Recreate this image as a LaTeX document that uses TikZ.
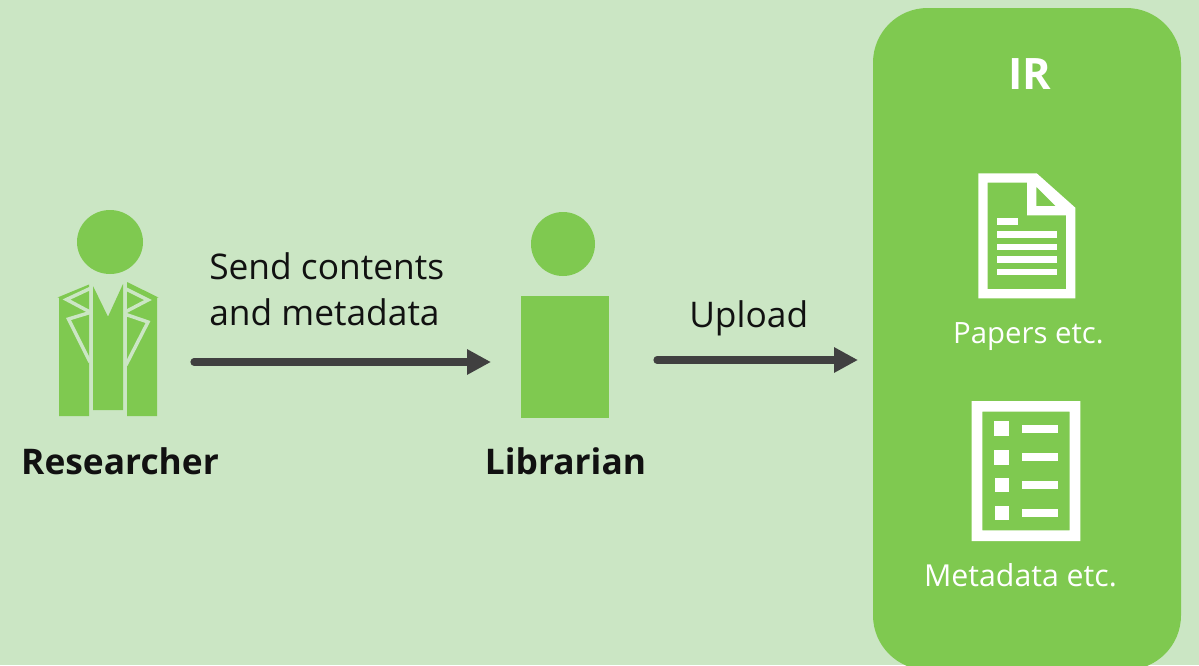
\documentclass[tikz,border=0pt]{standalone}
\usepackage{fontspec}
\setmainfont{Open Sans}
\usetikzlibrary{arrows.meta,calc}
\definecolor{bgc}{HTML}{CBE6C4}
\definecolor{grn}{HTML}{7FC950}
\definecolor{arrc}{HTML}{404040}
\definecolor{txt}{HTML}{111111}
\tikzset{
  x=0.75pt,y=-0.75pt,
  lbl/.style={text=txt,font=\fontsize{26.5pt}{34.5pt}\selectfont,inner sep=0pt,align=left},
  who/.style={text=txt,font=\fontsize{26.5pt}{30pt}\selectfont\bfseries,inner sep=0pt},
  captext/.style={text=white,font=\fontsize{22pt}{26pt}\selectfont,inner sep=0pt},
  arr/.style={draw=arrc,line width=5.4pt,line cap=round,-{Triangle[length=18pt,width=18pt]}},
  lap/.style={draw=bgc,line width=2.6pt,miter limit=10},
  fig/.style={inner sep=0pt,outer sep=0pt,anchor=north west},
}
\begin{document}
\begin{tikzpicture}
\useasboundingbox (0,0) rectangle (1199,665);
\clip (0,0) rectangle (1199,665);
\fill[bgc] (0,0) rectangle (1199,665);
% IR box
\fill[grn,rounded corners=41pt] (873,8) rectangle (1181,670);
\node[fig,minimum width=231pt,minimum height=496.5pt] (ir) at (873,8) {};
% Researcher
\node[fig,minimum width=73.5pt,minimum height=100.5pt] (researcher) at (59,282) {};
\fill[grn] (110,242) ellipse (33 and 32);
\fill[grn] (57.5,297.5) -- (89,284.5) -- (89,416) -- (59,416) -- (59,297.5) -- cycle;
\fill[grn] (93,286) -- (108,316.7) -- (123,284) -- (123,410) -- (93,410) -- cycle;
\fill[grn] (127,282) -- (158.5,297.5) -- (157,297.5) -- (157,416) -- (127,416) -- cycle;
\draw[lap] (90,288.5) -- (66.5,299.5) -- (90,312);
\draw[lap] (90,312.5) -- (68.5,319) -- (90,362);
\draw[lap] (126,289) -- (148,300) -- (126,311.5);
\draw[lap] (126,314.5) -- (148,322) -- (126,365);
% Librarian
\fill[grn] (563,244) circle[radius=32];
\node[fig,fill=grn,minimum width=66pt,minimum height=91.5pt] (librarian) at (521,296) {};
% Paper icon
\fill[white,even odd rule] (978.3,173.3) -- (1036.7,173.3) -- (1075.3,207.7) -- (1075.3,298.3) -- (978.3,298.3) -- cycle
  (987.7,182.7) -- (1027,182.7) -- (1027,215.3) -- (1066,215.3) -- (1066,289) -- (987.7,289) -- cycle
  (1036.3,186.7) -- (1036.3,206) -- (1055.7,206) -- cycle;
\fill[white] (997,218) rectangle (1018,225);
\fill[white] (997,231) rectangle (1057,238);
\fill[white] (997,243.7) rectangle (1057,250);
\fill[white] (997,256.3) rectangle (1057,262.7);
\fill[white] (997,269) rectangle (1057,275.3);
% Metadata icon
\fill[white,even odd rule] (971.7,401) rectangle (1080.3,541) (982.3,411.7) rectangle (1069.7,530.3);
\fill[white] (994,421) rectangle (1009,436);
\fill[white] (994,450) rectangle (1009,465);
\fill[white] (994.7,478) rectangle (1008.7,492);
\fill[white] (994.7,506) rectangle (1008.7,520);
\fill[white] (1022.3,425.3) rectangle (1057.7,432.7);
\fill[white] (1022.3,453.3) rectangle (1057.7,460.7);
\fill[white] (1022.3,481) rectangle (1058,489);
\fill[white] (1022.3,509) rectangle (1058,517);
% Connectors
\draw[arr,shorten <=27.75pt,shorten >=22.5pt] ([yshift=-9.75pt]researcher.east) -- ([yshift=-3.75pt]librarian.west);
\draw[arr,shorten <=36pt,shorten >=11.25pt] ([yshift=-2.25pt]librarian.east) -- (ir.west |- 0,360);
% Labels
\node[lbl,anchor=base west] (send) at (209,325) {Send contents\\and metadata};
\node[lbl,anchor=base west] (upload) at (689,327) {Upload};
\node[who,anchor=base] (rname) at (120,474) {Researcher};
\node[who,anchor=base] (lname) at (565.5,474) {Librarian};
\node[text=white,font=\fontsize{32.5pt}{36pt}\selectfont\bfseries,inner sep=0pt,anchor=base] (irname) at (1030,89) {IR};
\node[captext,anchor=base] (papers) at (1028.5,343) {Papers etc.};
\node[captext,font=\fontsize{22.7pt}{26pt}\selectfont,anchor=base] (meta) at (1020.5,586) {Metadata etc.};
\end{tikzpicture}
\end{document}
